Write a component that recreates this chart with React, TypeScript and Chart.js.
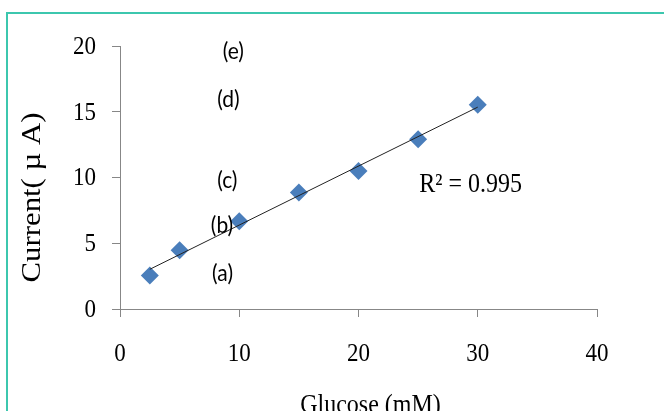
import React, { useEffect, useRef } from "react";
import { Chart, registerables } from "chart.js";

Chart.register(...registerables);

// ---- data ----
const glucose = [2.5, 5, 10, 15, 20, 25, 30];
const current = [2.55, 4.47, 6.68, 8.86, 10.5, 12.9, 15.54];
const xTickValues = [0, 10, 20, 30, 40];
const yTickValues = [0, 5, 10, 15, 20];
const annLabels = ["(a)", "(b)", "(c)", "(d)", "(e)"];
const annX = [8.6, 8.55, 9.0, 9.1, 9.5];
const annY = [2.72, 6.38, 9.75, 15.95, 19.6];
const r2Text = "R\u00B2 = 0.995";
const r2X = 29.4;
const r2Y = 9.45;
const xTitle = "Glucose (mM)";
const yTitle = "Current( \u00B5 A)";

function linearFit(xs: number[], ys: number[]) {
  const n = xs.length;
  const mx = xs.reduce((a, b) => a + b, 0) / n;
  const my = ys.reduce((a, b) => a + b, 0) / n;
  let sxy = 0;
  let sxx = 0;
  for (let i = 0; i < n; i++) {
    sxy += (xs[i] - mx) * (ys[i] - my);
    sxx += (xs[i] - mx) * (xs[i] - mx);
  }
  const slope = sxy / sxx;
  return { slope, intercept: my - slope * mx };
}

const SERIF = "'Liberation Serif', 'Times New Roman', serif";
const STRETCH = 1.14;

function stretched(ctx: CanvasRenderingContext2D, text: string, x: number, y: number, sy: number) {
  ctx.save();
  ctx.translate(x, y);
  ctx.scale(1, sy);
  ctx.fillText(text, 0, 0);
  ctx.restore();
}

const textPlugin = {
  id: "textPlugin",
  afterDraw(chart: any) {
    const ctx = chart.ctx as CanvasRenderingContext2D;
    const xs = chart.scales.x;
    const ys = chart.scales.y;
    const area = chart.chartArea;
    ctx.save();
    ctx.fillStyle = "#000";

    // tick labels
    ctx.font = "23px " + SERIF;
    ctx.textBaseline = "middle";
    ctx.textAlign = "right";
    yTickValues.forEach((v) => {
      stretched(ctx, String(v), area.left - 24, ys.getPixelForValue(v) + 1, STRETCH);
    });
    ctx.textAlign = "center";
    xTickValues.forEach((v) => {
      stretched(ctx, String(v), xs.getPixelForValue(v), area.bottom + 45, STRETCH);
    });

    // (a)..(e) labels
    ctx.font = "21px Lato, 'Open Sans', sans-serif";
    annLabels.forEach((t, i) => {
      stretched(ctx, t, xs.getPixelForValue(annX[i]), ys.getPixelForValue(annY[i]), 1.1);
    });

    // R^2
    ctx.font = "24px " + SERIF;
    stretched(ctx, r2Text, xs.getPixelForValue(r2X), ys.getPixelForValue(r2Y), STRETCH);

    // x title
    ctx.textBaseline = "alphabetic";
    stretched(ctx, xTitle, (area.left + area.right) / 2 + 12, area.bottom + 104, STRETCH);

    // y title
    ctx.translate(area.left - 87, (area.top + area.bottom) / 2 + 20);
    ctx.rotate(-Math.PI / 2);
    ctx.scale(STRETCH, 1);
    ctx.font = "27px " + SERIF;
    ctx.textBaseline = "middle";
    ctx.fillText(yTitle, 0, 0);
    ctx.restore();
  },
};

export default function App() {
  const canvasRef = useRef<HTMLCanvasElement | null>(null);

  useEffect(() => {
    if (!canvasRef.current) return;
    const fit = linearFit(glucose, current);
    const x0 = glucose[0];
    const x1 = glucose[glucose.length - 1];
    const axisColor = "#878787";

    const chart = new Chart(canvasRef.current, {
      type: "scatter",
      data: {
        datasets: [
          {
            type: "line",
            label: "trend",
            data: [
              { x: x0, y: fit.intercept + fit.slope * x0 },
              { x: x1, y: fit.intercept + fit.slope * x1 },
            ],
            borderColor: "#222",
            borderWidth: 1,
            pointRadius: 0,
            fill: false,
          } as any,
          {
            label: "Current",
            data: glucose.map((g, i) => ({ x: g, y: current[i] })),
            pointStyle: "rectRot",
            pointRadius: 9,
            pointHoverRadius: 9,
            backgroundColor: "#4a7ebb",
            borderColor: "#4a7ebb",
            borderWidth: 0,
          },
        ],
      },
      options: {
        responsive: false,
        animation: false,
        devicePixelRatio: 1,
        layout: { padding: { left: 0, top: 46, right: 67, bottom: 0 } },
        plugins: {
          legend: { display: false },
          tooltip: { enabled: false },
          title: { display: false },
        },
        scales: {
          x: {
            type: "linear",
            min: 0,
            max: 40,
            afterBuildTicks: (s: any) => {
              s.ticks = xTickValues.map((v) => ({ value: v }));
            },
            afterFit: (s: any) => {
              s.height = 102;
            },
            grid: {
              drawOnChartArea: false,
              drawTicks: true,
              tickLength: 8,
              color: axisColor,
              lineWidth: 1,
            },
            border: { display: true, color: axisColor, width: 1 },
            ticks: { display: false, autoSkip: false, maxRotation: 0 },
          },
          y: {
            type: "linear",
            min: 0,
            max: 20,
            afterBuildTicks: (s: any) => {
              s.ticks = yTickValues.map((v) => ({ value: v }));
            },
            afterFit: (s: any) => {
              s.width = 120;
            },
            grid: {
              drawOnChartArea: false,
              drawTicks: true,
              tickLength: 8,
              color: axisColor,
              lineWidth: 1,
            },
            border: { display: true, color: axisColor, width: 1 },
            ticks: { display: false, autoSkip: false },
          },
        },
      },
      plugins: [textPlugin],
    });
    return () => chart.destroy();
  }, []);

  return (
    <div
      style={{
        position: "fixed",
        left: 0,
        top: 0,
        width: 664,
        height: 411,
        overflow: "hidden",
        background: "#fff",
      }}
    >
      <div
        style={{
          position: "absolute",
          left: 6,
          top: 12,
          width: 720,
          height: 500,
          borderLeft: "2px solid #3cc7ae",
          borderTop: "2px solid #3cc7ae",
        }}
      />
      <canvas
        ref={canvasRef}
        width={664}
        height={411}
        style={{ position: "absolute", left: 0, top: 0, width: 664, height: 411 }}
      />
    </div>
  );
}
